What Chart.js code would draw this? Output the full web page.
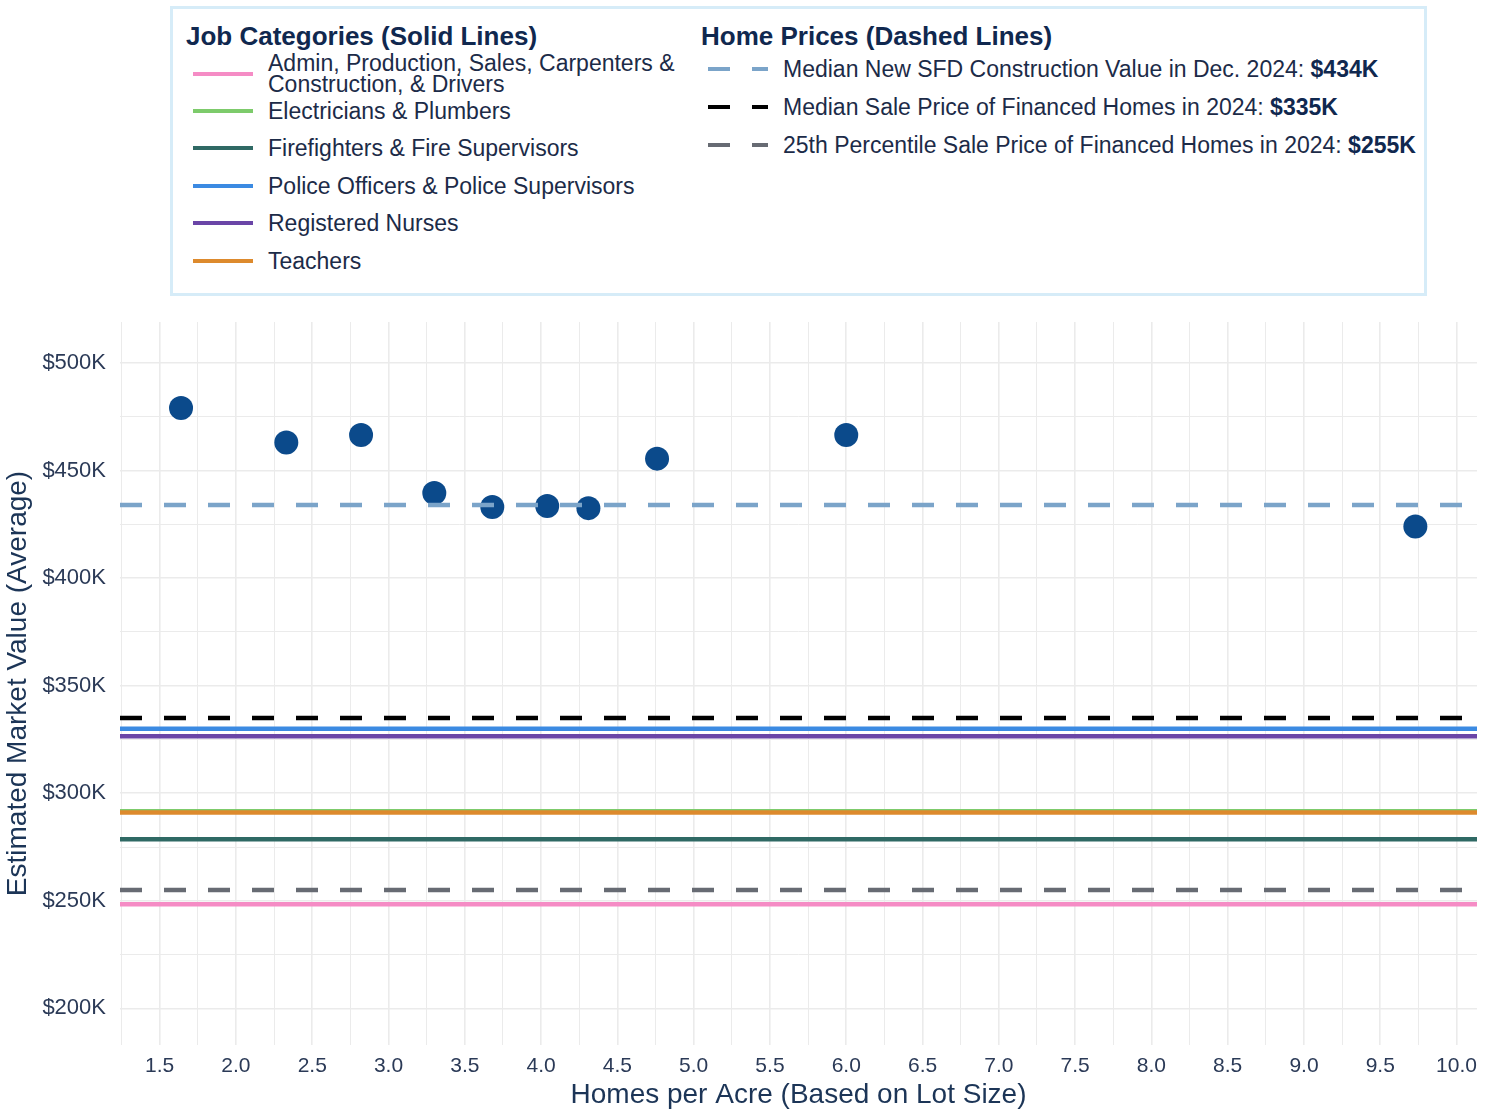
<!DOCTYPE html>
<html>
<head>
<meta charset="utf-8">
<script src="https://cdn.jsdelivr.net/npm/chart.js@4.4.1/dist/chart.umd.min.js"></script>
<style>
  html, body { margin:0; padding:0; background:#fff; }
  #wrap { position:relative; width:1498px; height:1112px; font-family:"Liberation Sans", Arial, sans-serif; }
  #chart { position:absolute; left:0; top:0; }
  #legend { position:absolute; left:170px; top:6px; width:1251px; height:284px; border:3px solid #d6ecf8; background:#fff; color:#1c2b48; }
  .ttl { position:absolute; font-weight:bold; font-size:26px; color:#10284f; white-space:nowrap; line-height:30px; }
  .item { position:absolute; display:flex; align-items:center; font-size:23px; }
  .sw { width:60px; height:0; margin-right:15px; flex:none; }
  .txt { line-height:24px; }
</style>
</head>
<body>
<div id="wrap">
  <canvas id="chart" width="1498" height="1112"></canvas>
  <div id="legend"></div>
</div>
<script>
// ---------- data ----------
const jobLabels = [
  'Admin, Production, Sales, Carpenters & Construction, & Drivers',
  'Electricians & Plumbers',
  'Firefighters & Fire Supervisors',
  'Police Officers & Police Supervisors',
  'Registered Nurses',
  'Teachers'
];
const jobValues = [248.4, 291.6, 278.6, 330.0, 326.5, 291.1];
const jobColors = ['#f58cc5', '#7dcb6b', '#2f6964', '#3b8ae2', '#6a45a7', '#dd8a2d'];

const homeLabels = [
  'Median New SFD Construction Value in Dec. 2024: ',
  'Median Sale Price of Financed Homes in 2024: ',
  '25th Percentile Sale Price of Financed Homes in 2024: '
];
const homeValues = [434, 335, 255];
const homeColors = ['#7ba4c9', '#000000', '#676b73'];

const densityX = [1.64, 2.33, 2.82, 3.30, 3.68, 4.04, 4.31, 4.76, 6.00, 9.73];
const marketY  = [479.0, 463.0, 466.5, 439.5, 433.0, 433.5, 432.5, 455.5, 466.5, 424.0];

const xMajorTicks = [1.5, 2.0, 2.5, 3.0, 3.5, 4.0, 4.5, 5.0, 5.5, 6.0, 6.5, 7.0, 7.5, 8.0, 8.5, 9.0, 9.5, 10.0];
const yMajorTicks = [200, 250, 300, 350, 400, 450, 500];
const xMin = 1.24, xMax = 10.134, yMin = 183, yMax = 519;

// ---------- legend (HTML) ----------
const legend = document.getElementById('legend');
function addTitle(text, left, top) {
  const d = document.createElement('div');
  d.className = 'ttl'; d.textContent = text;
  d.style.left = left + 'px'; d.style.top = top + 'px';
  legend.appendChild(d);
}
addTitle('Job Categories (Solid Lines)', 13, 12);
addTitle('Home Prices (Dashed Lines)', 528, 12);
const jobTops = [44, 90, 127, 165, 202, 240];
jobLabels.forEach((lab, i) => {
  const d = document.createElement('div');
  d.className = 'item';
  d.style.left = '20px'; d.style.top = jobTops[i] + 'px';
  d.style.height = (i === 0 ? 42 : 24) + 'px';
  const sw = document.createElement('div');
  sw.className = 'sw'; sw.style.borderTop = '4px solid ' + jobColors[i];
  const t = document.createElement('div');
  t.className = 'txt'; t.textContent = lab; t.style.width = '425px';
  if (i === 0) t.style.lineHeight = '21px';
  d.appendChild(sw); d.appendChild(t);
  legend.appendChild(d);
});
const homeTops = [48, 86, 124];
homeLabels.forEach((lab, i) => {
  const d = document.createElement('div');
  d.className = 'item';
  d.style.left = '535px'; d.style.top = homeTops[i] + 'px'; d.style.height = '24px';
  const sw = document.createElement('div');
  sw.className = 'sw';
  sw.style.height = '4px';
  sw.style.background = 'linear-gradient(to right,' + homeColors[i] + ' 0 22px, transparent 22px 44px,' + homeColors[i] + ' 44px 60px)';
  const t = document.createElement('div');
  t.className = 'txt'; t.style.whiteSpace = 'nowrap';
  t.appendChild(document.createTextNode(lab));
  const b = document.createElement('b');
  b.textContent = '$' + homeValues[i] + 'K';
  b.style.color = '#10284f';
  t.appendChild(b);
  d.appendChild(sw); d.appendChild(t);
  legend.appendChild(d);
});

// ---------- chart ----------
const datasets = [];
homeValues.forEach((v, i) => {
  datasets.push({
    type: 'line', label: homeLabels[i],
    data: [{x: xMin, y: v}, {x: xMax, y: v}],
    borderColor: homeColors[i], borderWidth: 4.5, borderDash: [22, 22],
    pointRadius: 0, order: 1, borderCapStyle: 'butt'
  });
});
const jobOrder = [2, 4, 2, 2, 2, 1];
jobValues.forEach((v, i) => {
  datasets.push({
    type: 'line', label: jobLabels[i],
    data: [{x: xMin, y: v}, {x: xMax, y: v}],
    borderColor: jobColors[i], borderWidth: 4.5,
    pointRadius: 0, order: jobOrder[i]
  });
});
datasets.push({
  type: 'scatter', label: 'Neighborhoods',
  data: densityX.map((x, i) => ({x: x, y: marketY[i]})),
  backgroundColor: '#0b4a8b', borderWidth: 0, pointRadius: 12, order: 10
});

const tickColor = '#2b3a57';
const gridColor = '#ebebeb';
new Chart(document.getElementById('chart'), {
  type: 'scatter',
  data: { datasets },
  options: {
    responsive: false, animation: false, devicePixelRatio: 1,
    layout: { padding: { top: 322, right: 21, left: 0, bottom: 0 } },
    plugins: { legend: { display: false }, tooltip: { enabled: false } },
    scales: {
      x: {
        type: 'linear', min: xMin, max: xMax,
        afterBuildTicks: s => {
          const t = [];
          xMajorTicks.forEach(v => { t.push({value: v - 0.25, minor: true}); t.push({value: v}); });
          s.ticks = t.filter(o => o.value >= xMin && o.value <= xMax);
        },
        afterFit: s => { s.height = 67; },
        ticks: {
          autoSkip: false, maxRotation: 0, padding: 9, color: tickColor,
          font: { family: 'Liberation Sans', size: 21 },
          callback: function(v, i, ticks) { return ticks[i].minor ? '' : Number(v).toFixed(1); }
        },
        grid: {
          drawTicks: false, color: gridColor,
          lineWidth: c => (c.tick && c.tick.minor) ? 1 : 1.6
        },
        border: { display: false },
        title: {
          display: true, text: 'Homes per Acre (Based on Lot Size)', color: '#1c3557',
          font: { family: 'Liberation Sans', size: 28 }, padding: { top: 0, bottom: 0 }
        }
      },
      y: {
        type: 'linear', min: yMin, max: yMax,
        afterBuildTicks: s => {
          const t = [];
          yMajorTicks.forEach(v => { t.push({value: v}); t.push({value: v + 25, minor: true}); });
          s.ticks = t.filter(o => o.value >= yMin && o.value <= yMax);
        },
        afterFit: s => { s.width = 120; },
        ticks: {
          autoSkip: false, padding: 14, color: tickColor,
          font: { family: 'Liberation Sans', size: 22 },
          callback: function(v, i, ticks) { return ticks[i].minor ? '' : '$' + v + 'K'; }
        },
        grid: {
          drawTicks: false, color: gridColor,
          lineWidth: c => (c.tick && c.tick.minor) ? 1 : 1.6
        },
        border: { display: false },
        title: {
          display: true, text: 'Estimated Market Value (Average)', color: '#1c3557',
          font: { family: 'Liberation Sans', size: 28 }, padding: { top: 1, bottom: 0 }
        }
      }
    }
  }
});
</script>
</body>
</html>
